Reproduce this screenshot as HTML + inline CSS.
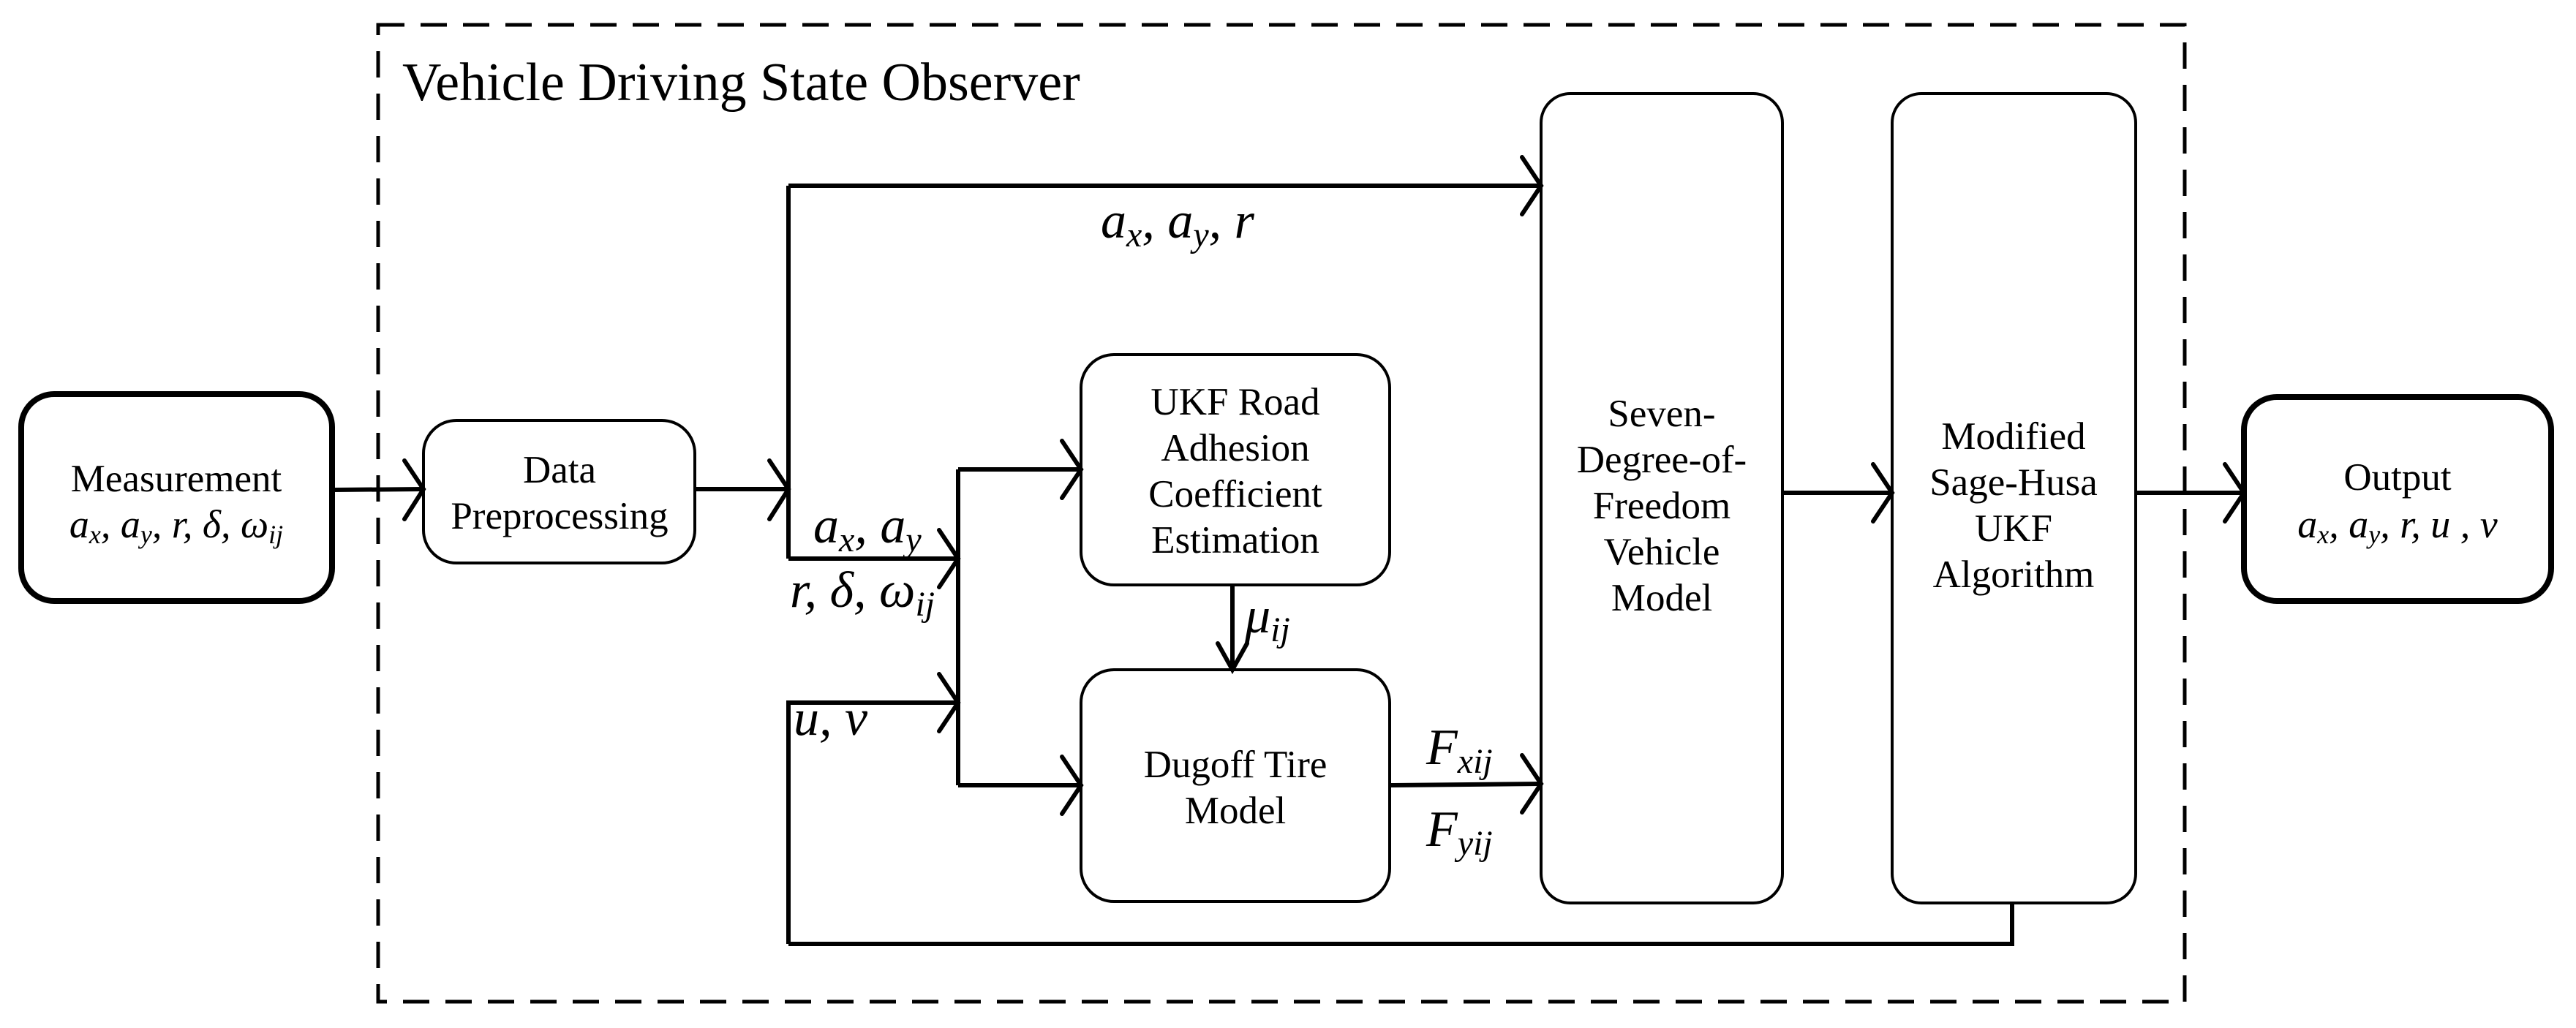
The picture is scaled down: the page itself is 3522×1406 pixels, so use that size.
<!DOCTYPE html>
<html><head><meta charset="utf-8"><style>
html,body{margin:0;padding:0;background:#fff}
svg{display:block}
.t{font-family:"Liberation Serif",serif;font-size:53px;fill:#000}
.m{font-family:"Liberation Serif",serif;font-style:italic;font-size:70px;fill:#000}
.s{font-size:48px}
</style></head><body>
<svg width="3522" height="1406" viewBox="0 0 3522 1406" xmlns="http://www.w3.org/2000/svg">
<rect x="517" y="34" width="2470" height="1336" fill="none" stroke="#000" stroke-width="5" stroke-dasharray="36,22"/>
<text x="550" y="137" style="font-family:'Liberation Serif',serif;font-size:74px">Vehicle Driving State Observer</text>

<g fill="#fff" stroke="#000">
<rect x="29" y="539" width="425" height="283" rx="45" stroke-width="8"/>
<rect x="579" y="575" width="371" height="195" rx="45" stroke-width="4"/>
<rect x="1478" y="485" width="422" height="315" rx="45" stroke-width="4"/>
<rect x="1478" y="916" width="422" height="317" rx="45" stroke-width="4"/>
<rect x="2107" y="128" width="330" height="1107" rx="40" stroke-width="4"/>
<rect x="2587" y="128" width="333" height="1107" rx="40" stroke-width="4"/>
<rect x="3068" y="543" width="420" height="279" rx="45" stroke-width="8"/>
</g>

<g stroke="#000" stroke-width="6" fill="none">
<polyline points="454,670 579,669"/>
<polyline points="950,669 1078,669"/>
<polyline points="1078,254 1078,764"/>
<polyline points="1078,254 2107,254"/>
<polyline points="1078,764 1310,764"/>
<polyline points="1310,642 1310,1074"/>
<polyline points="1310,642 1478,642"/>
<polyline points="1310,1074 1478,1074"/>
<polyline points="1078,1291 1078,961 1310,961"/>
<polyline points="1078,1291 2751,1291 2751,1235"/>
<polyline points="1685,800 1685,916"/>
<polyline points="1900,1074 2107,1072"/>
<polyline points="2437,674 2587,674"/>
<polyline points="2920,674 3068,674"/>
</g>
<g stroke="#000" stroke-width="6" fill="none" stroke-linecap="round">
<polyline points="553,630 579,669 553,710"/>
<polyline points="1052,630 1078,669 1052,710"/>
<polyline points="2081,215 2107,254 2081,293"/>
<polyline points="1284,725 1310,764 1284,803"/>
<polyline points="1284,922 1310,961 1284,1000"/>
<polyline points="1452,603 1478,642 1452,681"/>
<polyline points="1452,1035 1478,1074 1452,1113"/>
<polyline points="1665,880 1685,916 1705,880"/>
<polyline points="2081,1033 2107,1072 2081,1111"/>
<polyline points="2561,635 2587,674 2561,713"/>
<polyline points="3042,635 3068,674 3042,713"/>
</g>

<g class="t" text-anchor="middle">
<text x="241" y="672">Measurement</text>
<text x="765" y="660">Data</text>
<text x="765" y="723">Preprocessing</text>
<text x="1689" y="567">UKF Road</text>
<text x="1689" y="630">Adhesion</text>
<text x="1689" y="693">Coefficient</text>
<text x="1689" y="756">Estimation</text>
<text x="1689" y="1063">Dugoff Tire</text>
<text x="1689" y="1126">Model</text>
<text x="2272" y="583">Seven-</text>
<text x="2272" y="646">Degree-of-</text>
<text x="2272" y="709">Freedom</text>
<text x="2272" y="772">Vehicle</text>
<text x="2272" y="835">Model</text>
<text x="2753" y="614">Modified</text>
<text x="2753" y="677">Sage-Husa</text>
<text x="2753" y="740">UKF</text>
<text x="2753" y="803">Algorithm</text>
<text x="3278" y="670">Output</text>
</g>

<g class="m">
<text x="241" y="735" text-anchor="middle" style="font-size:54px">a<tspan dy="8" style="font-size:36px">x</tspan><tspan dy="-8">, a</tspan><tspan dy="8" style="font-size:36px">y</tspan><tspan dy="-8">, r, δ, ω</tspan><tspan dy="8" style="font-size:36px">ij</tspan></text>
<text x="3278" y="735" text-anchor="middle" style="font-size:54px">a<tspan dy="8" style="font-size:36px">x</tspan><tspan dy="-8">, a</tspan><tspan dy="8" style="font-size:36px">y</tspan><tspan dy="-8">, r, u , v</tspan></text>
<text x="1505" y="325">a<tspan class="s" dy="12">x</tspan><tspan dy="-12">, a</tspan><tspan class="s" dy="12">y</tspan><tspan dy="-12">, r</tspan></text>
<text x="1112" y="742">a<tspan class="s" dy="12">x</tspan><tspan dy="-12">, a</tspan><tspan class="s" dy="12">y</tspan></text>
<text x="1080" y="830">r, δ, ω<tspan class="s" dy="12">ij</tspan></text>
<text x="1085" y="1005">u, v</text>
<text x="1702" y="865">μ<tspan class="s" dy="12">ij</tspan></text>
<text x="1950" y="1045">F<tspan class="s" dy="12">xij</tspan></text>
<text x="1950" y="1157">F<tspan class="s" dy="12">yij</tspan></text>
</g>
</svg>
</body></html>
